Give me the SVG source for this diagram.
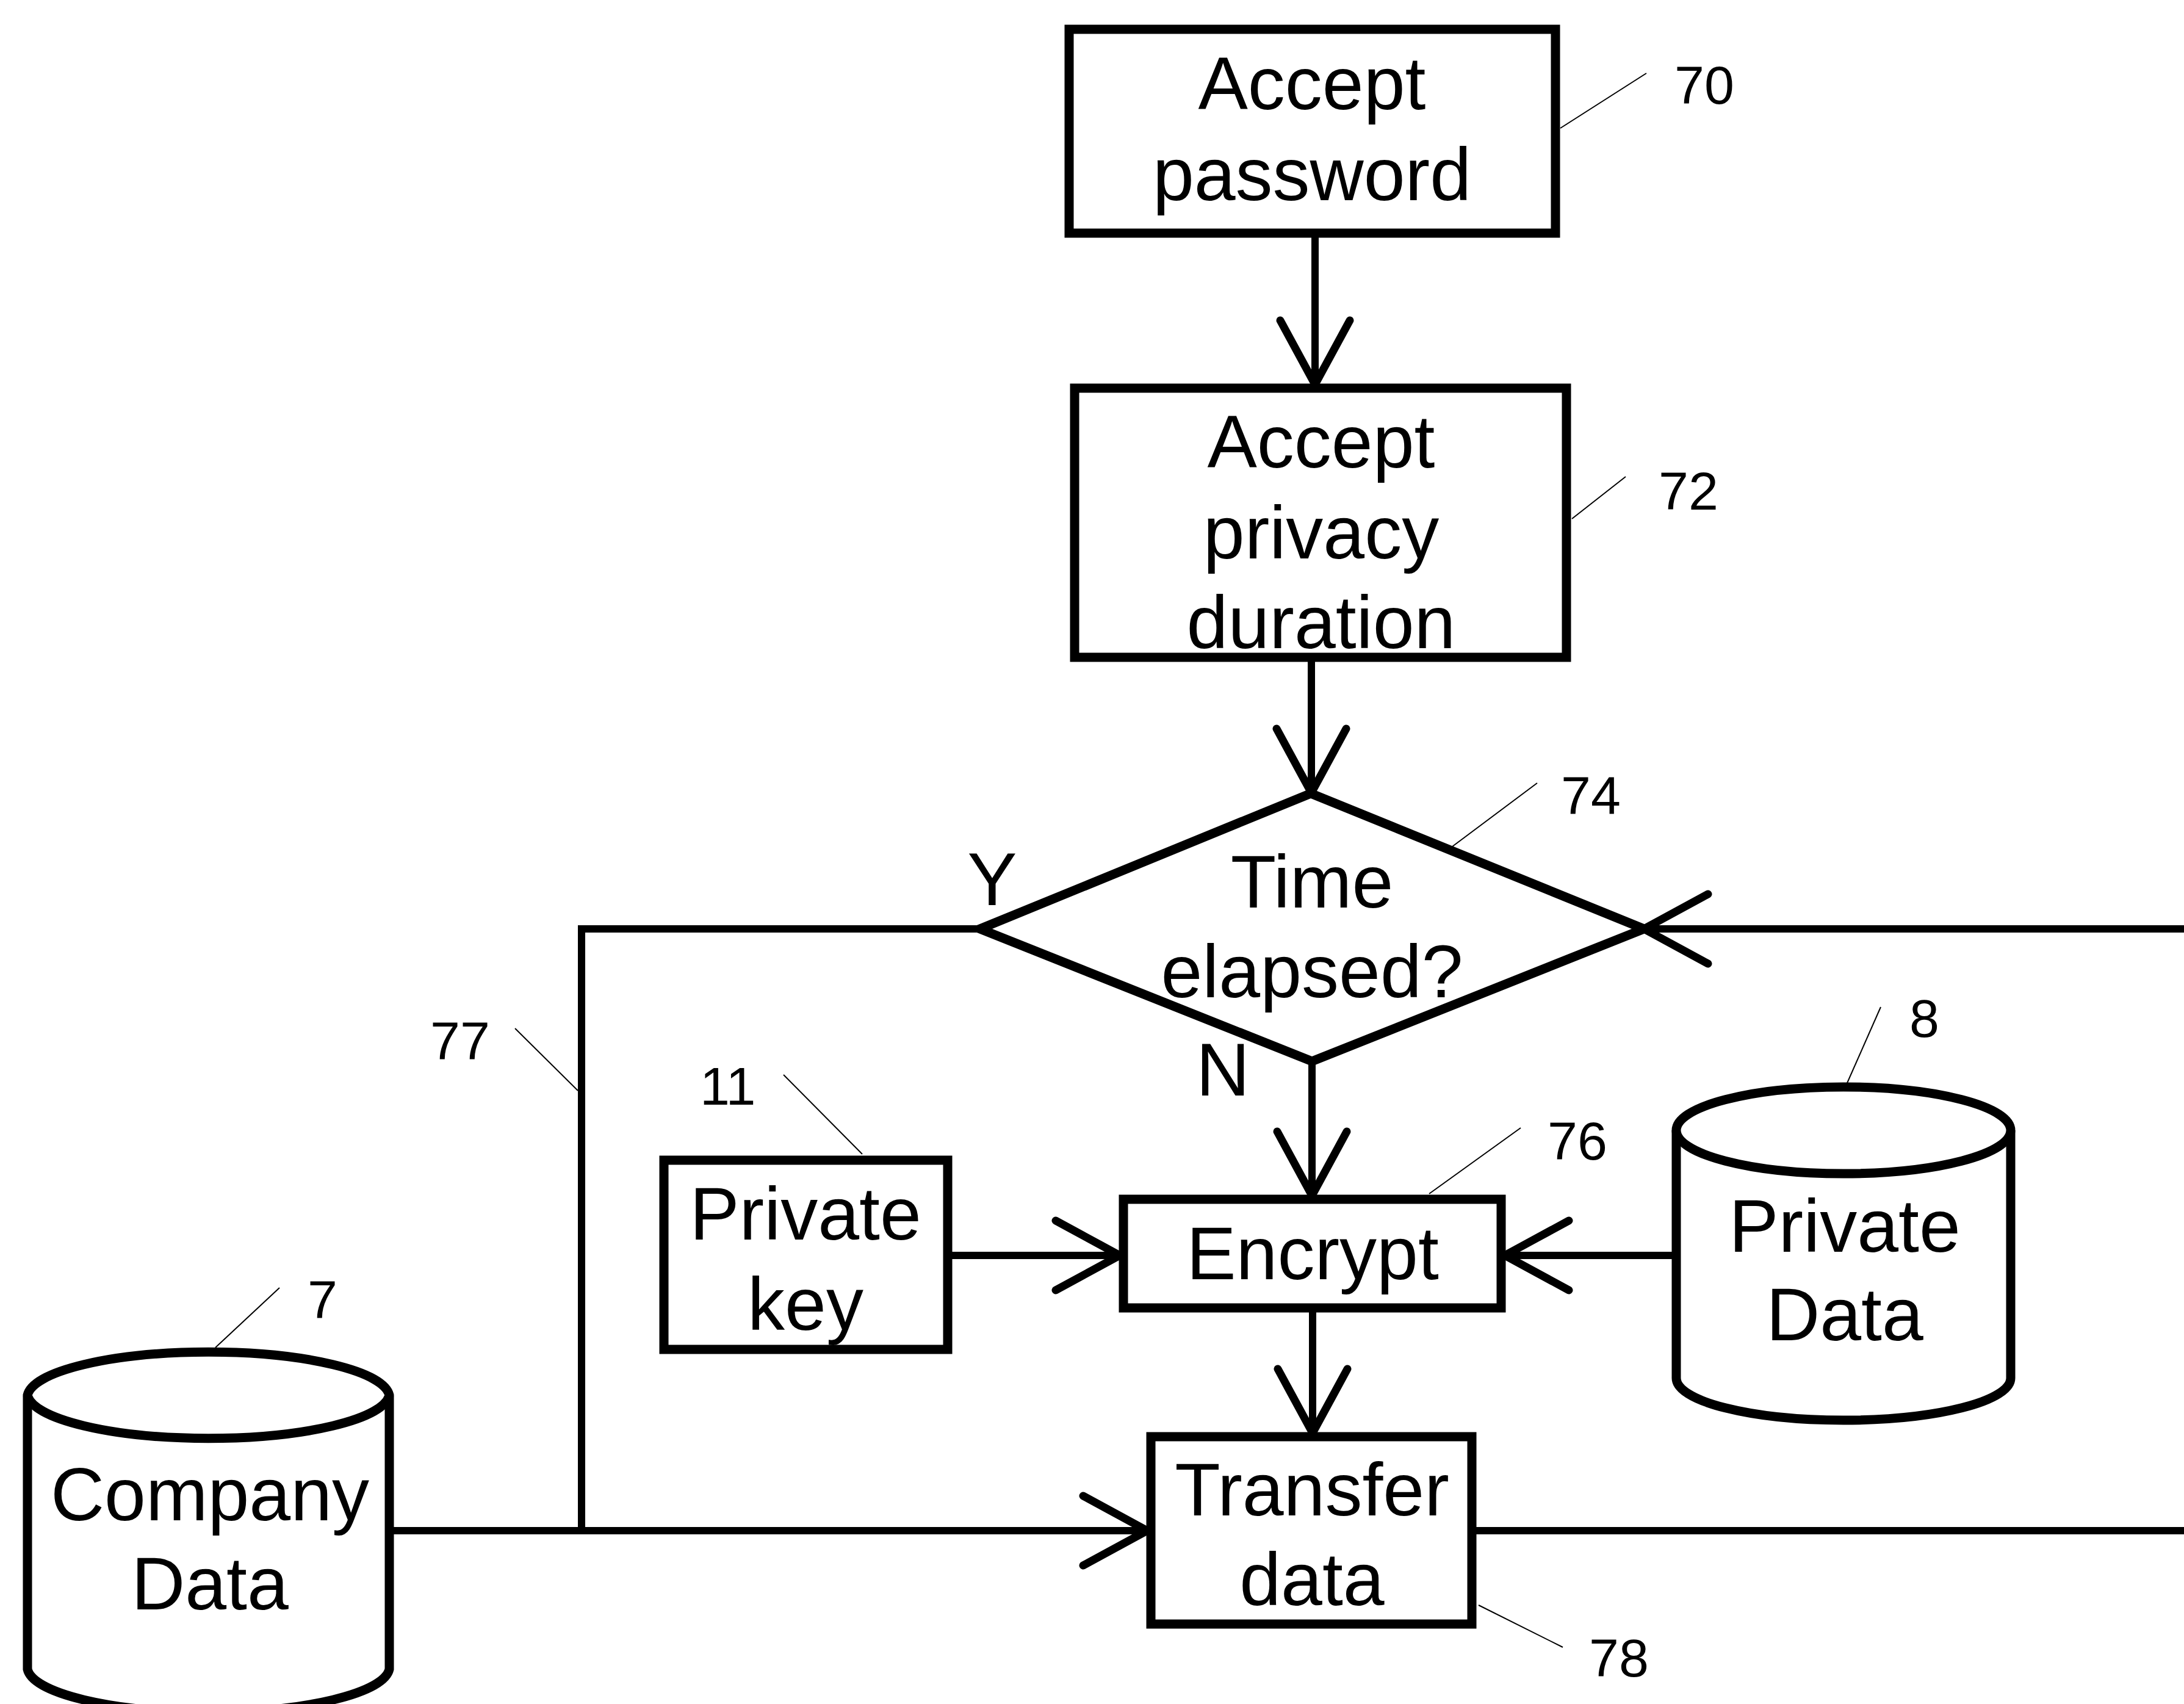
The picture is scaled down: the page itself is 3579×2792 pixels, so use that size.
<svg xmlns="http://www.w3.org/2000/svg" width="3579" height="2792" viewBox="0 0 3579 2792">
<style>
.box{fill:#fff;stroke:#000;stroke-width:15;stroke-linejoin:miter}
.conn{fill:none;stroke:#000;stroke-width:12}
.lead{fill:none;stroke:#000;stroke-width:2}
.t{font-family:"Liberation Sans",Arial,sans-serif;font-size:122px;text-anchor:middle;fill:#000}
.n{font-family:"Liberation Sans",Arial,sans-serif;font-size:88px;fill:#000}
</style>
<defs>
<marker id="arr" markerUnits="userSpaceOnUse" viewBox="-120 -70 130 140" refX="0" refY="0" markerWidth="130" markerHeight="140" orient="auto" overflow="visible">
<path d="M-105,-57 L0,0 L-105,57" fill="none" stroke="#000" stroke-width="13" stroke-linecap="round" stroke-linejoin="miter"/>
</marker>
</defs>
<rect width="3579" height="2792" fill="#fff"/>
<g id="connectors">
<path class="conn" d="M2155,382 V630" marker-end="url(#arr)"/>
<path class="conn" d="M2149,1083 V1299" marker-end="url(#arr)"/>
<path class="conn" d="M1606,1522 H953 V2508"/>
<path class="conn" d="M638,2508 H1880" marker-end="url(#arr)"/>
<path class="conn" d="M2418,2508 H3579"/>
<path class="conn" d="M3579,1522 H2694" marker-end="url(#arr)"/>
<path class="conn" d="M2150,1739 V1959" marker-end="url(#arr)"/>
<path class="conn" d="M1559,2057 H1835" marker-end="url(#arr)"/>
<path class="conn" d="M2747,2057 H2466" marker-end="url(#arr)"/>
<path class="conn" d="M2151,2149 V2348" marker-end="url(#arr)"/>
</g>
<g id="n70">
<rect class="box" x="1752" y="48" width="797" height="334"/>
<text class="t" x="2150" y="179">Accept</text>
<text class="t" x="2150" y="328">password</text>
</g>
<g id="n72">
<rect class="box" x="1761" y="636" width="806" height="441"/>
<text class="t" x="2165" y="766">Accept</text>
<text class="t" x="2165" y="915">privacy</text>
<text class="t" x="2165" y="1062">duration</text>
</g>
<g id="n74">
<polygon class="box" points="2148,1300 2694,1522 2150,1739 1606,1522"/>
<text class="t" x="2150" y="1487">Time</text>
<text class="t" x="2150" y="1634">elapsed?</text>
</g>
<g id="n76">
<rect class="box" x="1841" y="1965" width="619" height="178"/>
<text class="t" x="2151" y="2096">Encrypt</text>
</g>
<g id="n11">
<rect class="box" x="1088" y="1901" width="465" height="310"/>
<text class="t" x="1320" y="2031">Private</text>
<text class="t" x="1320" y="2179">key</text>
</g>
<g id="n8">
<path class="box" d="M2747,1852 A274,71 0 0 1 3295,1852 L3295,2258 A274,69 0 0 1 2747,2258 Z"/>
<path class="box" fill="none" d="M2747,1852 A274,71 0 0 0 3295,1852"/>
<text class="t" x="3023" y="2051">Private</text>
<text class="t" x="3023" y="2196">Data</text>
</g>
<g id="n78">
<rect class="box" x="1886" y="2354" width="526" height="307"/>
<text class="t" x="2150" y="2483">Transfer</text>
<text class="t" x="2150" y="2630">data</text>
</g>
<g id="n7">
<path class="box" d="M45,2286 A297,75 0 0 1 638,2286 L638,2735 A297,75 0 0 1 45,2735 Z"/>
<path class="box" fill="none" d="M45,2286 A297,75 0 0 0 638,2286"/>
<text class="t" x="344" y="2491">Company</text>
<text class="t" x="344" y="2637">Data</text>
</g>
<g id="labels">
<text class="t" x="1626" y="1483">Y</text>
<text class="t" x="2004" y="1795">N</text>
<path class="lead" d="M2698,120 L2557,210"/>
<text class="n" x="2744" y="170">70</text>
<path class="lead" d="M2664,781 L2576,850"/>
<text class="n" x="2718" y="835">72</text>
<path class="lead" d="M2519,1283 L2380,1387"/>
<text class="n" x="2558" y="1334">74</text>
<path class="lead" d="M3082,1650 L3025,1779"/>
<text class="n" x="3129" y="1699">8</text>
<path class="lead" d="M2492,1848 L2342,1956"/>
<text class="n" x="2536" y="1900">76</text>
<path class="lead" d="M1284,1761 L1413,1891"/>
<text class="n" x="1147" y="1810">11</text>
<path class="lead" d="M844,1685 L947,1787"/>
<text class="n" x="705" y="1736">77</text>
<path class="lead" d="M458,2110 L353,2208"/>
<text class="n" x="504" y="2160">7</text>
<path class="lead" d="M2423,2630 L2561,2699"/>
<text class="n" x="2604" y="2747">78</text>
</g>
</svg>
